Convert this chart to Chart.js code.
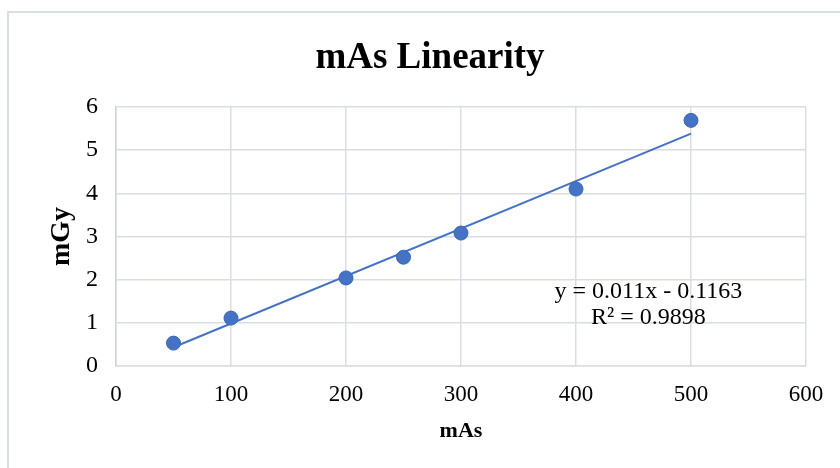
<!DOCTYPE html>
<html>
<head>
<meta charset="utf-8">
<title>mAs Linearity</title>
<script src="https://cdn.jsdelivr.net/npm/chart.js@4/dist/chart.umd.min.js"></script>
<style>
  html, body { margin: 0; padding: 0; background: #fff; }
  #wrap { width: 840px; height: 468px; }
</style>
</head>
<body>
<div id="wrap"><canvas id="linChart" width="840" height="468"></canvas></div>
<script>
/* ============================
   DATA
   ============================ */
const mAs = [50, 100, 200, 250, 300, 400, 500];
const mGy = [0.53, 1.11, 2.04, 2.52, 3.08, 4.10, 5.69];

// trendline as shown on the chart
const slope = 0.011;
const intercept = -0.1163;
const rSquared = 0.9898;

const xTicks = [0, 100, 200, 300, 400, 500, 600];
const yTicks = [0, 1, 2, 3, 4, 5, 6];

const SERIF = "'Liberation Serif', 'Times New Roman', serif";
const BLUE = "#4472C4";
const GRID = "#d9dee6";

// trendline spans the data range
const xFirst = mAs[0];
const xLast = mAs[mAs.length - 1];
const trend = [
  { x: xFirst, y: slope * xFirst + intercept },
  { x: xLast, y: slope * xLast + intercept },
];

/* ============================
   PLUGINS
   ============================ */
// outer chart frame (only left/top edges are visible in the picture)
const frame = {
  id: "frame",
  beforeDraw(chart) {
    const ctx = chart.ctx;
    ctx.save();
    ctx.strokeStyle = GRID;
    ctx.lineWidth = 2;
    ctx.strokeRect(8, 12, 900, 600);
    ctx.restore();
  },
};

// equation + R² label
const equation = {
  id: "equation",
  afterDatasetsDraw(chart) {
    const { ctx, scales } = chart;
    const x = scales.x.getPixelForValue(463);
    const y1 = scales.y.getPixelForValue(1.73);
    const y2 = scales.y.getPixelForValue(1.12);
    const sign = intercept < 0 ? "-" : "+";
    ctx.save();
    ctx.font = "24px " + SERIF;
    ctx.fillStyle = "#000";
    ctx.textAlign = "center";
    ctx.textBaseline = "middle";
    ctx.fillText(`y = ${slope}x ${sign} ${Math.abs(intercept)}`, x, y1);
    ctx.fillText(`R² = ${rSquared}`, x, y2);
    ctx.restore();
  },
};

/* ============================
   CHART
   ============================ */
new Chart(document.getElementById("linChart"), {
  type: "scatter",
  data: {
    datasets: [
      {
        label: "mGy",
        data: mAs.map((x, i) => ({ x, y: mGy[i] })),
        backgroundColor: BLUE,
        borderColor: "#3b66b5",
        borderWidth: 1,
        pointRadius: 7,
        pointHoverRadius: 7,
        order: 1,
      },
      {
        label: "Linear",
        type: "line",
        data: trend,
        borderColor: BLUE,
        borderWidth: 2,
        pointRadius: 0,
        fill: false,
        order: 2,
      },
    ],
  },
  options: {
    responsive: false,
    animation: false,
    layout: { padding: { left: 54, right: 34, top: 0, bottom: 0 } },
    plugins: {
      legend: { display: false },
      tooltip: { enabled: false },
      title: {
        display: true,
        text: "mAs Linearity",
        color: "#000",
        font: { family: SERIF, size: 37, weight: "bold", lineHeight: 1.2 },
        padding: { top: 36, bottom: 26.6 },
      },
    },
    scales: {
      x: {
        type: "linear",
        min: 0,
        max: 600,
        afterBuildTicks: (s) => { s.ticks = xTicks.map((v) => ({ value: v })); },
        afterFit: (s) => { s.height = 102; },
        ticks: {
          color: "#000",
          padding: 15,
          font: { family: SERIF, size: 23 },
        },
        grid: { color: GRID, lineWidth: 1.5, drawTicks: false },
        border: { color: GRID, width: 1.5 },
        title: {
          display: true,
          text: "mAs",
          color: "#000",
          font: { family: SERIF, size: 22, weight: "bold", lineHeight: 1.2 },
          padding: { top: 0, bottom: 23 },
        },
      },
      y: {
        type: "linear",
        min: 0,
        max: 6,
        afterBuildTicks: (s) => { s.ticks = yTicks.map((v) => ({ value: v })); },
        afterFit: (s) => { s.width = 62; },
        ticks: {
          color: "#000",
          padding: 18,
          font: { family: SERIF, size: 24 },
        },
        grid: { color: GRID, lineWidth: 1.5, drawTicks: false },
        border: { color: "#cdd4de", width: 1.5 },
        title: {
          display: true,
          text: "mGy",
          color: "#000",
          font: { family: SERIF, size: 28, weight: "bold", lineHeight: 1 },
          padding: { top: -6, bottom: 0 },
        },
      },
    },
  },
  plugins: [frame, equation],
});
</script>
</body>
</html>
